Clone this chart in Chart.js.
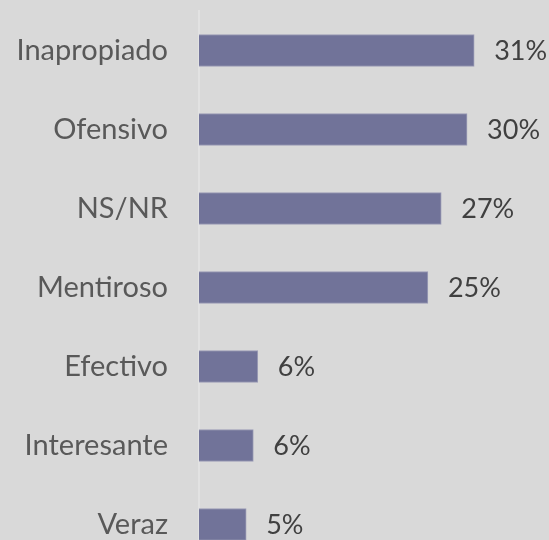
<!DOCTYPE html>
<html>
<head>
<meta charset="utf-8">
<script src="https://cdn.jsdelivr.net/npm/chart.js@4/dist/chart.umd.min.js"></script>
<style>
  html, body { margin: 0; padding: 0; background: #d9d9d9; overflow: hidden; }
  canvas { display: block; }
</style>
</head>
<body>
<canvas id="chart" width="549" height="566"></canvas>
<script>
// Datos
const categorias = ['Inapropiado', 'Ofensivo', 'NS/NR', 'Mentiroso', 'Efectivo', 'Interesante', 'Veraz'];
const valores = [30.9, 30.1, 27.2, 25.7, 6.6, 6.1, 5.3];
const etiquetas = ['31%', '30%', '27%', '25%', '6%', '6%', '5%'];

// Etiquetas de valor al final de cada barra
const valueLabels = {
    id: 'valueLabels',
    afterDatasetsDraw(chart) {
        const ctx = chart.ctx;
        const meta = chart.getDatasetMeta(0);
        ctx.save();
        ctx.font = '27px Lato';
        ctx.fillStyle = '#404040';
        ctx.textAlign = 'left';
        ctx.textBaseline = 'middle';
        meta.data.forEach((bar, i) => {
            ctx.fillText(etiquetas[i], bar.x + 20, bar.y + 1);
        });
        ctx.restore();
    }
};

new Chart(document.getElementById('chart'), {
    type: 'bar',
    data: {
        labels: categorias,
        datasets: [{
            data: valores,
            backgroundColor: '#717399',
            borderColor: '#9c9db6',
            borderWidth: 1,
            barThickness: 32
        }]
    },
    options: {
        indexAxis: 'y',
        responsive: false,
        animation: false,
        layout: { padding: { top: 11, bottom: 2, left: 0, right: 0 } },
        plugins: {
            legend: { display: false },
            tooltip: { enabled: false }
        },
        scales: {
            x: {
                display: false,
                min: 0,
                max: 39.3
            },
            y: {
                afterFit(scale) {
                    scale.width = 199;
                    scale.paddingTop = 0;
                    scale.paddingBottom = 0;
                },
                grid: { display: false, drawTicks: false },
                border: { display: true, color: '#e2e2e2', width: 2 },
                ticks: {
                    padding: 31,
                    color: '#595959',
                    font: { family: 'Lato', size: 29 }
                }
            }
        }
    },
    plugins: [valueLabels]
});
</script>
</body>
</html>
